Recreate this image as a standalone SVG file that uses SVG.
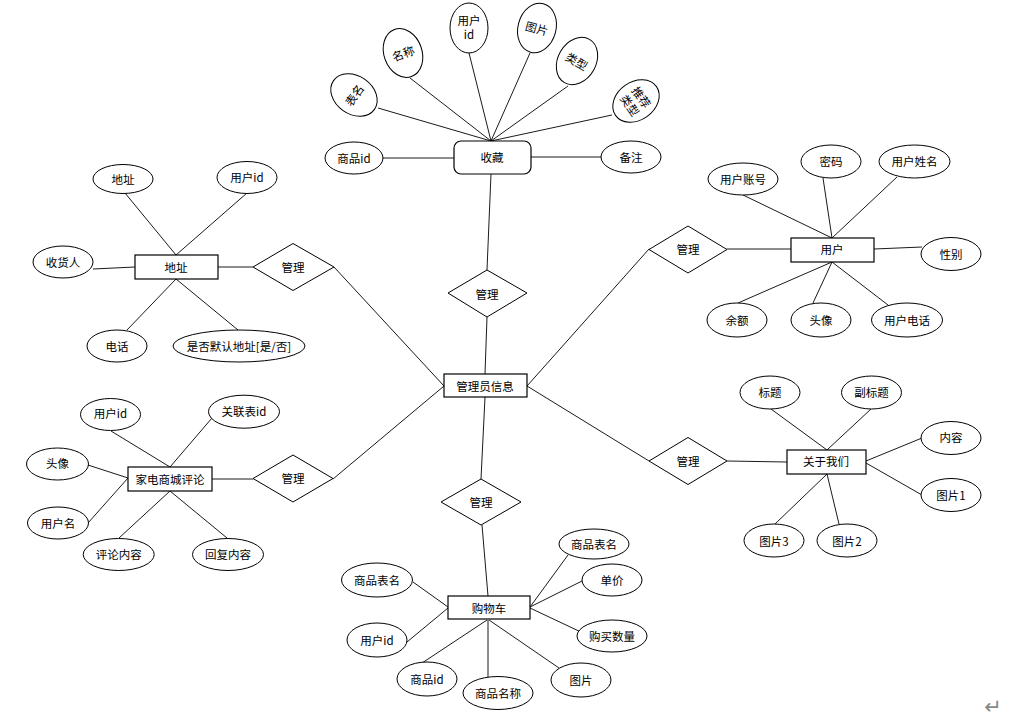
<svg xmlns="http://www.w3.org/2000/svg" width="1016" height="720" viewBox="0 0 1016 720">
<style>
.e{fill:#fff;stroke:#000;stroke-width:1}
.r{fill:#fff;stroke:#000;stroke-width:1.2}
.d{fill:#fff;stroke:#000;stroke-width:1}
.c line{stroke:#000;stroke-width:0.9}
text{font-family:"Noto Sans CJK SC","Liberation Sans",sans-serif;font-size:11.5px;fill:#000;text-anchor:middle;dominant-baseline:central}
</style>
<rect width="1016" height="720" fill="#fff"/>
<g class="c" id="connectors">
<line x1="378" y1="108" x2="491" y2="141"/>
<line x1="410" y1="78" x2="491" y2="141"/>
<line x1="469" y1="53" x2="491" y2="141"/>
<line x1="530" y1="53" x2="491" y2="141"/>
<line x1="568" y1="86" x2="491" y2="141"/>
<line x1="612" y1="115" x2="491" y2="141"/>
<line x1="383" y1="158" x2="454" y2="158"/>
<line x1="531" y1="157" x2="601" y2="157"/>
<line x1="491" y1="174" x2="487" y2="270"/>
<line x1="487" y1="317" x2="485" y2="374"/>
<line x1="485" y1="397" x2="481" y2="479"/>
<line x1="482" y1="525" x2="488" y2="596"/>
<line x1="334" y1="267" x2="444" y2="386"/>
<line x1="333" y1="479" x2="444" y2="386"/>
<line x1="527" y1="386" x2="649" y2="249"/>
<line x1="527" y1="386" x2="649" y2="461"/>
<line x1="125" y1="193" x2="176" y2="255"/>
<line x1="247" y1="193" x2="176" y2="255"/>
<line x1="93" y1="269" x2="135" y2="267"/>
<line x1="127" y1="330" x2="176" y2="279"/>
<line x1="238" y1="330" x2="176" y2="279"/>
<line x1="218" y1="267" x2="253" y2="267"/>
<line x1="743" y1="195" x2="832" y2="238"/>
<line x1="823" y1="178" x2="832" y2="238"/>
<line x1="897" y1="177" x2="832" y2="238"/>
<line x1="922" y1="247" x2="874" y2="249"/>
<line x1="738" y1="303" x2="832" y2="262"/>
<line x1="813" y1="303" x2="832" y2="262"/>
<line x1="888" y1="305" x2="832" y2="262"/>
<line x1="727" y1="249" x2="791" y2="249"/>
<line x1="771" y1="409" x2="827" y2="450"/>
<line x1="871" y1="409" x2="827" y2="450"/>
<line x1="922" y1="438" x2="866" y2="461"/>
<line x1="922" y1="495" x2="866" y2="463"/>
<line x1="775" y1="524" x2="827" y2="474"/>
<line x1="839" y1="524" x2="827" y2="474"/>
<line x1="727" y1="461" x2="787" y2="462"/>
<line x1="111" y1="431" x2="170" y2="467"/>
<line x1="212" y1="418" x2="170" y2="467"/>
<line x1="88" y1="465" x2="128" y2="478"/>
<line x1="88" y1="523" x2="128" y2="478"/>
<line x1="119" y1="538" x2="170" y2="491"/>
<line x1="227" y1="538" x2="170" y2="491"/>
<line x1="212" y1="479" x2="253" y2="479"/>
<line x1="568" y1="555" x2="530" y2="607"/>
<line x1="582" y1="581" x2="530" y2="607"/>
<line x1="583" y1="633" x2="530" y2="608"/>
<line x1="559" y1="668" x2="489" y2="620"/>
<line x1="488" y1="677" x2="488" y2="620"/>
<line x1="419" y1="665" x2="487" y2="620"/>
<line x1="407" y1="642" x2="448" y2="608"/>
<line x1="413" y1="582" x2="448" y2="607"/>
</g>
<g id="shoucang"><rect class="r" x="454" y="141" width="77" height="33" rx="7"/><text x="492" y="157">收藏</text></g>
<g id="sc-biaoming" transform="translate(354,95) rotate(-55)"><ellipse class="e" rx="19" ry="25"/><text x="0" y="0">表名</text></g>
<g id="sc-mingcheng" transform="translate(403,53) rotate(-20)"><ellipse class="e" rx="19" ry="25"/><text x="0" y="0">名称</text></g>
<g id="sc-yonghuid"><ellipse class="e" cx="469" cy="28" rx="19" ry="25"/><text x="469" y="20">用户</text><text x="469" y="34">id</text></g>
<g id="sc-tupian" transform="translate(537,28) rotate(15)"><ellipse class="e" rx="19" ry="25"/><text x="0" y="0">图片</text></g>
<g id="sc-leixing" transform="translate(577,61) rotate(30)"><ellipse class="e" rx="19" ry="25"/><text x="0" y="0">类型</text></g>
<g id="sc-tuijian" transform="translate(636,101) rotate(55)"><ellipse class="e" rx="19" ry="25"/><text x="0" y="-7">推荐</text><text x="0" y="7">类型</text></g>
<g id="sc-shangpinid"><ellipse class="e" cx="354" cy="158" rx="29" ry="16"/><text x="354" y="158">商品id</text></g>
<g id="sc-beizhu"><ellipse class="e" cx="631" cy="157" rx="30" ry="16"/><text x="631" y="157">备注</text></g>
<g id="d-shoucang"><polygon class="d" points="487,270 527,293 487,317 448,293"/><text x="487" y="294">管理</text></g>
<g id="admin"><rect class="r" x="444" y="374" width="83" height="23"/><text x="485" y="386">管理员信息</text></g>
<g id="d-gouwuche"><polygon class="d" points="481,479 521,502 481,525 441,502"/><text x="481" y="502">管理</text></g>
<g id="gouwuche"><rect class="r" x="448" y="596" width="82" height="23"/><text x="489" y="608">购物车</text></g>
<g id="gw-bm1"><ellipse class="e" cx="594" cy="544" rx="35" ry="15"/><text x="594" y="544">商品表名</text></g>
<g id="gw-danjia"><ellipse class="e" cx="612" cy="580" rx="30" ry="16"/><text x="612" y="580">单价</text></g>
<g id="gw-shuliang"><ellipse class="e" cx="612" cy="636" rx="35" ry="16"/><text x="612" y="636">购买数量</text></g>
<g id="gw-tupian"><ellipse class="e" cx="581" cy="680" rx="30" ry="17"/><text x="581" y="680">图片</text></g>
<g id="gw-mingcheng"><ellipse class="e" cx="498" cy="693" rx="35" ry="16.5"/><text x="498" y="693">商品名称</text></g>
<g id="gw-spid"><ellipse class="e" cx="427" cy="679" rx="30" ry="17"/><text x="427" y="679">商品id</text></g>
<g id="gw-yhid"><ellipse class="e" cx="377" cy="640" rx="30" ry="17"/><text x="377" y="640">用户id</text></g>
<g id="gw-bm2"><ellipse class="e" cx="377" cy="580" rx="35.5" ry="17"/><text x="377" y="580">商品表名</text></g>
<g id="dizhi"><rect class="r" x="135" y="255" width="83" height="24"/><text x="176" y="267">地址</text></g>
<g id="dz-dizhi"><ellipse class="e" cx="123" cy="179" rx="30" ry="14.5"/><text x="123" y="179">地址</text></g>
<g id="dz-yhid"><ellipse class="e" cx="247" cy="177.5" rx="30" ry="16"/><text x="247" y="177">用户id</text></g>
<g id="dz-shouhuoren"><ellipse class="e" cx="63" cy="262" rx="30" ry="16"/><text x="63" y="262">收货人</text></g>
<g id="dz-dianhua"><ellipse class="e" cx="117" cy="346" rx="30" ry="16"/><text x="117" y="346">电话</text></g>
<g id="dz-moren"><ellipse class="e" cx="239" cy="346" rx="66" ry="16"/><text x="239" y="346">是否默认地址[是/否]</text></g>
<g id="d-dizhi"><polygon class="d" points="293,243.5 334,267 293,290.5 253,267"/><text x="293" y="267">管理</text></g>
<g id="yonghu"><rect class="r" x="791" y="238" width="83" height="24"/><text x="832" y="249">用户</text></g>
<g id="d-yonghu"><polygon class="d" points="688,226 727,249.5 688,273 649,249.5"/><text x="688" y="249">管理</text></g>
<g id="yh-zhanghao"><ellipse class="e" cx="743" cy="179" rx="35" ry="16"/><text x="743" y="179">用户账号</text></g>
<g id="yh-mima"><ellipse class="e" cx="831" cy="161.5" rx="30" ry="16.5"/><text x="831" y="161">密码</text></g>
<g id="yh-xingming"><ellipse class="e" cx="914.5" cy="161.5" rx="35.5" ry="16.5"/><text x="914.5" y="161">用户姓名</text></g>
<g id="yh-xingbie"><ellipse class="e" cx="951" cy="254" rx="30" ry="16.5"/><text x="951" y="254">性别</text></g>
<g id="yh-yue"><ellipse class="e" cx="737" cy="320" rx="30" ry="17"/><text x="737" y="320">余额</text></g>
<g id="yh-touxiang"><ellipse class="e" cx="821" cy="320" rx="30" ry="17"/><text x="821" y="320">头像</text></g>
<g id="yh-dianhua"><ellipse class="e" cx="907" cy="320" rx="35.5" ry="17"/><text x="907" y="320">用户电话</text></g>
<g id="guanyu"><rect class="r" x="787" y="450" width="79" height="24"/><text x="826" y="461">关于我们</text></g>
<g id="d-guanyu"><polygon class="d" points="688,437.5 727,461 688,484.5 649,461"/><text x="688" y="461">管理</text></g>
<g id="gy-biaoti"><ellipse class="e" cx="770" cy="392.5" rx="30" ry="16.5"/><text x="770" y="392">标题</text></g>
<g id="gy-fubiaoti"><ellipse class="e" cx="871.5" cy="392.5" rx="30" ry="16.5"/><text x="871.5" y="392">副标题</text></g>
<g id="gy-neirong"><ellipse class="e" cx="951" cy="438" rx="30" ry="16.5"/><text x="951" y="437">内容</text></g>
<g id="gy-tupian1"><ellipse class="e" cx="951" cy="495" rx="30" ry="16.5"/><text x="951" y="495">图片1</text></g>
<g id="gy-tupian3"><ellipse class="e" cx="774" cy="540.5" rx="30" ry="16.5"/><text x="774" y="541">图片3</text></g>
<g id="gy-tupian2"><ellipse class="e" cx="847" cy="540.5" rx="30" ry="16.5"/><text x="847" y="541">图片2</text></g>
<g id="pinglun"><rect class="r" x="128" y="467" width="84" height="24"/><text x="170" y="479">家电商城评论</text></g>
<g id="d-pinglun"><polygon class="d" points="293,455 333,478.5 293,502 253,478.5"/><text x="293" y="478">管理</text></g>
<g id="pl-yhid"><ellipse class="e" cx="110.5" cy="414.5" rx="30" ry="16"/><text x="110.5" y="413">用户id</text></g>
<g id="pl-guanlian"><ellipse class="e" cx="244" cy="411.7" rx="35.5" ry="16.5"/><text x="244" y="411">关联表id</text></g>
<g id="pl-touxiang"><ellipse class="e" cx="57.5" cy="464" rx="31" ry="16"/><text x="57.5" y="463">头像</text></g>
<g id="pl-yhm"><ellipse class="e" cx="58" cy="523" rx="30.5" ry="16"/><text x="58" y="523">用户名</text></g>
<g id="pl-plnr"><ellipse class="e" cx="118.7" cy="554.5" rx="35.5" ry="16"/><text x="118.7" y="554">评论内容</text></g>
<g id="pl-hfnr"><ellipse class="e" cx="228" cy="554.5" rx="35.5" ry="16"/><text x="228" y="554">回复内容</text></g>
<text x="993" y="707" style="font-family:'DejaVu Sans',sans-serif;font-size:21px;fill:#888">↵</text>
</svg>
